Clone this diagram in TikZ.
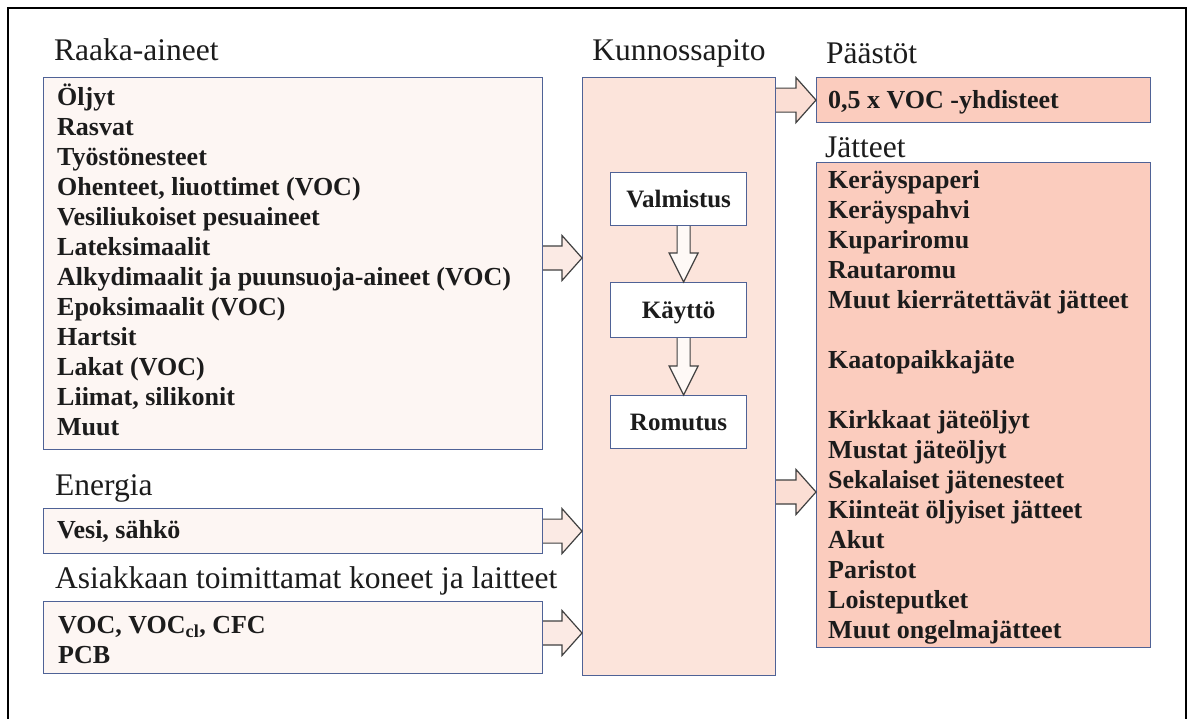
\documentclass[tikz,border=0pt]{standalone}
\usepackage{fontspec}
\setmainfont{Liberation Serif}
\usetikzlibrary{calc}
\definecolor{bord}{RGB}{79,98,150}
\definecolor{lightfill}{RGB}{253,246,243}
\definecolor{kunnfill}{RGB}{252,228,219}
\definecolor{salmon}{RGB}{251,204,190}
\definecolor{arrA}{RGB}{251,234,228}
\definecolor{arrB}{RGB}{251,222,212}
\definecolor{arrC}{RGB}{254,249,246}
\definecolor{arrline}{RGB}{64,64,64}
\definecolor{txt}{RGB}{28,28,28}
\newcommand{\stackedlines}[1]{\vtop{\baselineskip=30pt\lineskiplimit=-\maxdimen\lineskip=0pt\halign{##\hfil\cr#1\crcr}}}
\newcommand{\rightblock}[3]{%
  \fill[#3] ($(#1)+(0,-12)$) -- ($(#2)+(-20,-12)$) -- ($(#2)+(-20,-22.5)$) -- (#2) -- ($(#2)+(-20,22.5)$) -- ($(#2)+(-20,12)$) -- ($(#1)+(0,12)$) -- cycle;
  \draw[arrowline] ($(#1)+(0,-12)$) -- ($(#2)+(-20,-12)$) -- ($(#2)+(-20,-22.5)$) -- (#2) -- ($(#2)+(-20,22.5)$) -- ($(#2)+(-20,12)$) -- ($(#1)+(0,12)$);}
\newcommand{\downblock}[2]{%
  \filldraw[arrowline,fill=arrC] ($(#1)+(-6.5,0)$) -- ($(#2)+(-6.5,-29)$) -- ($(#2)+(-14.5,-29)$) -- (#2) -- ($(#2)+(14.5,-29)$) -- ($(#2)+(6.5,-29)$) -- ($(#1)+(6.5,0)$);}
\tikzset{
  box/.style={draw=bord, line width=1.2pt, rectangle, inner sep=0pt, anchor=north west},
  title/.style={inner sep=0pt, text=txt, font=\fontsize{31.5}{36}\selectfont},
  items/.style={inner sep=0pt, anchor=base west, text=txt, font=\fontsize{26}{30}\selectfont\bfseries},
  stage/.style={inner sep=0pt, anchor=base, text=txt, font=\fontsize{25}{30}\selectfont\bfseries},
  arrowline/.style={draw=arrline, line width=1.2pt, line join=miter}
}
\begin{document}
\begin{tikzpicture}[x=1pt,y=-1pt]
\useasboundingbox (0,0) rectangle (1188,718);
\fill[white] (0,0) rectangle (1188,718);
% frame
\draw[line width=1.6pt, black] (8,720) -- (8,8) -- (1186,8) -- (1186,720);

% titles
\node[title, anchor=base west] (raakaT) at (54,60) {Raaka-aineet};
\node[title, anchor=base] (kunnT) at (679,60) {Kunnossapito};
\node[title, anchor=base west] (paastT) at (826,63) {Päästöt};
\node[title, anchor=base west] (jatT) at (825,157) {Jätteet};
\node[title, anchor=base west] (enT) at (55,495) {Energia};
\node[title, anchor=base west] (asT) at (55,588) {Asiakkaan toimittamat koneet ja laitteet};

% boxes
\node[box, fill=lightfill, minimum width=499pt, minimum height=372pt] (raaka) at (43,77) {};
\node[box, fill=lightfill, minimum width=499pt, minimum height=45pt] (energia) at (43,508) {};
\node[box, fill=lightfill, minimum width=499pt, minimum height=72pt] (asiak) at (43,601) {};
\node[box, fill=kunnfill, minimum width=193pt, minimum height=598pt] (kunn) at (582,77) {};
\node[box, fill=white, minimum width=136pt, minimum height=53pt] (valm) at (610,172) {};
\node[box, fill=white, minimum width=136pt, minimum height=55pt] (kaytto) at (610,282) {};
\node[box, fill=white, minimum width=136pt, minimum height=53pt] (romu) at (610,395) {};
\node[box, fill=salmon, minimum width=334pt, minimum height=45pt] (paast) at (816,77) {};
\node[box, fill=salmon, minimum width=334pt, minimum height=485pt] (jat) at (816,162) {};

% box texts
\node[items] (raakaL) at (57,105) {\stackedlines{Öljyt\cr Rasvat\cr Työstönesteet\cr Ohenteet, liuottimet (VOC)\cr Vesiliukoiset pesuaineet\cr Lateksimaalit\cr Alkydimaalit ja puunsuoja-aineet (VOC)\cr Epoksimaalit (VOC)\cr Hartsit\cr Lakat (VOC)\cr Liimat, silikonit\cr Muut}};
\node[items] (energiaL) at (57,538) {Vesi, sähkö};
\node[items] (asiakL) at (58,633) {\stackedlines{VOC, VOC\textsubscript{cl}, CFC\cr PCB}};
\node[items] (paastL) at (828,108) {0,5 x VOC -yhdisteet};
\node[items] (jatL) at (828,188) {\stackedlines{Keräyspaperi\cr Keräyspahvi\cr Kupariromu\cr Rautaromu\cr Muut kierrätettävät jätteet\cr\cr Kaatopaikkajäte\cr\cr Kirkkaat jäteöljyt\cr Mustat jäteöljyt\cr Sekalaiset jätenesteet\cr Kiinteät öljyiset jätteet\cr Akut\cr Paristot\cr Loisteputket\cr Muut ongelmajätteet}};
\node[stage] (valmL) at ($(valm.center)+(0,8.5)$) {Valmistus};
\node[stage] (kayttoL) at ($(kaytto.center)+(0,8.5)$) {Käyttö};
\node[stage] (romuL) at ($(romu.center)+(0,8.5)$) {Romutus};

% block arrows
\coordinate (y1) at (0,258);
\coordinate (y3) at (0,633);
\coordinate (y5) at (0,492);
\rightblock{raaka.east |- y1}{kunn.west |- y1}{arrA}
\rightblock{energia.east}{kunn.west |- energia.east}{arrA}
\rightblock{asiak.east |- y3}{kunn.west |- y3}{arrA}
\rightblock{kunn.east |- paast.west}{paast.west}{arrB}
\rightblock{kunn.east |- y5}{jat.west |- y5}{arrB}
\downblock{$(valm.south)+(5,0)$}{$(kaytto.north)+(5,0)$}
\downblock{$(kaytto.south)+(5,0)$}{$(romu.north)+(5,0)$}
\end{tikzpicture}
\end{document}
